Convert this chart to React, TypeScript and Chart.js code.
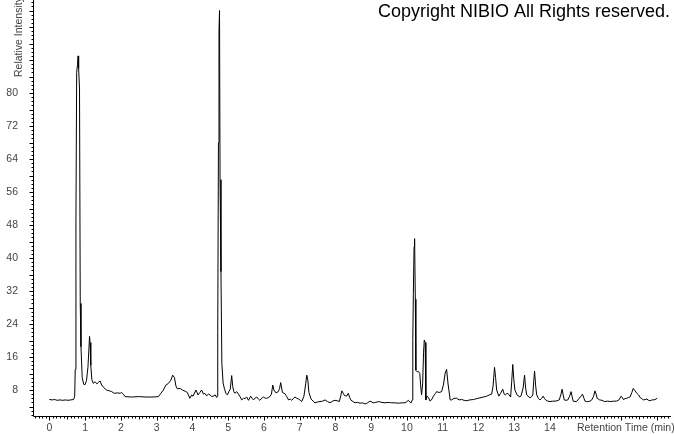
import React, { useEffect, useRef } from "react";
import { Chart, registerables } from "chart.js";

Chart.register(...registerables);

// Retention time (min)
const times: number[] = [
  0.0, 0.08, 0.15, 0.22, 0.3, 0.38, 0.45, 0.52, 0.6, 0.68,
  0.71, 0.725, 0.745, 0.765, 0.79, 0.805, 0.82, 0.845, 0.865, 0.885,
  0.92, 0.96, 1.0, 1.04, 1.08, 1.105, 1.125, 1.14, 1.16, 1.19,
  1.23, 1.28, 1.33, 1.38, 1.42, 1.465, 1.52, 1.6, 1.68, 1.745,
  1.82, 1.9, 1.98, 2.02, 2.07, 2.12, 2.3, 2.5, 2.7, 2.9,
  3.05, 3.12, 3.19, 3.26, 3.33, 3.4, 3.45, 3.5, 3.54, 3.58,
  3.66, 3.72, 3.8, 3.86, 3.93, 3.98, 4.02, 4.1, 4.16, 4.21,
  4.26, 4.31, 4.35, 4.4, 4.45, 4.5, 4.54, 4.6, 4.64, 4.68,
  4.7, 4.705, 4.715, 4.73, 4.745, 4.76, 4.775, 4.8, 4.825, 4.86,
  4.9, 4.94, 4.98, 5.02, 5.06, 5.1, 5.13, 5.16, 5.19, 5.24,
  5.29, 5.34, 5.38, 5.43, 5.47, 5.52, 5.57, 5.63, 5.67, 5.71,
  5.76, 5.8, 5.85, 5.89, 5.94, 5.99, 6.04, 6.08, 6.13, 6.17,
  6.21, 6.25, 6.28, 6.34, 6.4, 6.44, 6.47, 6.52, 6.59, 6.64,
  6.69, 6.74, 6.78, 6.83, 6.87, 6.92, 6.97, 7.02, 7.06, 7.12,
  7.17, 7.2, 7.23, 7.26, 7.32, 7.38, 7.43, 7.5, 7.57, 7.64,
  7.71, 7.78, 7.85, 7.92, 7.99, 8.05, 8.11, 8.15, 8.18, 8.22,
  8.25, 8.31, 8.36, 8.4, 8.43, 8.49, 8.55, 8.62, 8.69, 8.76,
  8.83, 8.9, 8.97, 9.06, 9.13, 9.2, 9.3, 9.39, 9.48, 9.57,
  9.66, 9.76, 9.86, 9.95, 10.0, 10.04, 10.08, 10.12, 10.15, 10.165,
  10.18, 10.2, 10.215, 10.235, 10.25, 10.29, 10.32, 10.36, 10.385, 10.41,
  10.44, 10.465, 10.485, 10.51, 10.53, 10.56, 10.6, 10.65, 10.7, 10.74,
  10.8, 10.83, 10.9, 10.97, 11.02, 11.07, 11.11, 11.15, 11.21, 11.25,
  11.32, 11.39, 11.46, 11.53, 11.6, 11.67, 11.76, 11.86, 11.95, 12.04,
  12.14, 12.23, 12.3, 12.37, 12.41, 12.45, 12.48, 12.51, 12.57, 12.62,
  12.68, 12.72, 12.75, 12.8, 12.84, 12.9, 12.93, 12.96, 12.99, 13.02,
  13.08, 13.16, 13.2, 13.25, 13.29, 13.32, 13.35, 13.44, 13.49, 13.52,
  13.545, 13.57, 13.6, 13.63, 13.68, 13.72, 13.77, 13.81, 13.85, 13.88,
  13.94, 14.0, 14.07, 14.14, 14.2, 14.26, 14.31, 14.34, 14.37, 14.4,
  14.45, 14.5, 14.55, 14.59, 14.62, 14.65, 14.7, 14.74, 14.82, 14.88,
  14.91, 14.95, 14.98, 15.02, 15.07, 15.12, 15.17, 15.22, 15.26, 15.29,
  15.32, 15.39, 15.45, 15.53, 15.61, 15.7, 15.78, 15.86, 15.93, 15.99,
  16.02, 16.05, 16.1, 16.15, 16.2, 16.24, 16.29, 16.33, 16.38, 16.43,
  16.48, 16.52, 16.57, 16.61, 16.66, 16.71, 16.76, 16.8, 16.85, 16.89,
  16.94, 17.0,
];

// Relative intensity
const intensity: number[] = [
  5.7, 5.6, 5.7, 5.5, 5.6, 5.5, 5.6, 5.5, 5.6, 5.7,
  6.5, 13, 49, 85, 87, 89, 86, 81, 29, 18.5,
  11, 9.4, 9.3, 10.3, 13.5, 17.5, 21, 19.5, 14, 10.5,
  9.6, 10.0, 9.5, 9.9, 10.2, 9.2, 8.6, 8.0, 7.8, 7.6,
  7.2, 7.3, 7.2, 7.4, 7.0, 6.4, 6.3, 6.4, 6.3, 6.3,
  6.4, 7.2, 8.0, 9.2, 9.6, 10.4, 11.6, 11.0, 9.0, 8.3,
  8.4, 8.0, 7.7, 7.4, 6.0, 6.8, 6.5, 8.0, 6.8, 7.4,
  8.0, 7.0, 7.2, 6.6, 7.0, 6.8, 6.4, 6.6, 6.8, 6.2,
  6.5, 14, 22, 68, 95, 100, 59, 36.7, 14.5, 9.7,
  8.2, 7.2, 6.8, 7.6, 8.2, 11.5, 8.8, 7.6, 7.2, 7.6,
  7.0, 6.3, 5.6, 6.0, 5.9, 6.3, 5.5, 6.5, 6.0, 5.6,
  6.1, 6.3, 5.8, 5.5, 6.0, 6.3, 6.0, 6.0, 6.2, 6.4,
  7.0, 9.2, 8.0, 7.3, 7.6, 8.4, 9.8, 7.4, 7.1, 6.4,
  5.6, 5.8, 5.5, 6.0, 6.3, 6.0, 5.8, 5.5, 5.2, 6.5,
  9.5, 11.6, 10.4, 7.4, 5.8, 5.3, 4.9, 5.1, 5.2, 5.3,
  5.6, 5.2, 4.9, 5.3, 5.5, 5.4, 5.2, 6.6, 7.8, 7.2,
  6.7, 6.5, 7.2, 6.2, 5.6, 5.2, 4.9, 5.0, 4.8, 4.9,
  4.6, 4.9, 5.3, 4.9, 5.0, 5.2, 5.0, 4.9, 5.0, 4.9,
  4.9, 4.8, 4.9, 4.9, 5.2, 5.5, 5.1, 4.9, 5.6, 20,
  31.4, 42.7, 44.7, 30, 12.8, 12.4, 12.5, 12.0, 9.0, 6.8,
  9.5, 17, 20.1, 19.5, 5.6, 6.5, 6.2, 5.3, 5.8, 6.5,
  7.2, 7.6, 7.4, 7.6, 9.2, 12.1, 13.0, 9.5, 5.6, 5.6,
  6.0, 6.0, 5.6, 5.7, 5.5, 5.4, 5.6, 5.7, 5.9, 6.1,
  6.3, 6.5, 6.8, 7.0, 9.0, 13.5, 11, 8.0, 6.5, 7.2,
  8.2, 7.0, 6.8, 7.2, 7.0, 6.3, 10, 14.2, 10.5, 8.0,
  6.8, 6.3, 6.8, 8.5, 11.6, 8.5, 6.8, 6.1, 6.4, 6.8,
  10, 12.6, 9, 6.8, 5.9, 5.6, 6.0, 6.5, 5.9, 5.6,
  5.3, 5.2, 5.3, 5.3, 5.4, 5.6, 7.0, 8.2, 6.8, 5.6,
  5.5, 5.6, 6.5, 7.6, 6.4, 5.3, 5.2, 5.2, 6.0, 6.6,
  7.0, 6.0, 5.3, 5.2, 5.2, 5.3, 5.6, 6.5, 7.8, 7.0,
  6.0, 5.6, 5.5, 5.2, 5.3, 5.2, 5.3, 5.3, 5.6, 6.5,
  6.2, 5.7, 5.9, 6.0, 6.2, 6.3, 7.4, 8.4, 7.8, 7.2,
  6.8, 6.2, 5.9, 5.6, 5.7, 5.8, 5.5, 5.4, 5.6, 5.6,
  5.7, 6.0,
];

const xTickLabels: number[] = [0, 1, 2, 3, 4, 5, 6, 7, 8, 9, 10, 11, 12, 13, 14];
const yTickLabels: number[] = [8, 16, 24, 32, 40, 48, 56, 64, 72, 80];

const X_MIN = -0.456;
const X_MAX = 17.385;
const Y_MIN = 1.7;
const Y_MAX = 102.55;

const FONT = "'Liberation Sans', Arial, sans-serif";

const decorPlugin = {
  id: "decor",
  afterDraw(chart: any) {
    const { ctx, chartArea, scales } = chart;
    const xs = scales.x;
    const ys = scales.y;
    const ax = Math.round(chartArea.left) + 0.5;
    const ay = Math.round(chartArea.bottom) + 0.5;
    ctx.save();
    ctx.strokeStyle = "#000";
    ctx.lineWidth = 1;
    ctx.beginPath();
    // axis lines
    ctx.moveTo(ax, chartArea.top);
    ctx.lineTo(ax, ay);
    ctx.lineTo(Math.round(chartArea.right), ay);
    // y ticks
    for (let v = Math.ceil(Y_MIN); v <= Y_MAX; v++) {
      const py = Math.round(ys.getPixelForValue(v)) + 0.5;
      const len = v % 4 === 0 ? 4 : 2;
      ctx.moveTo(ax - len, py);
      ctx.lineTo(ax, py);
    }
    // x ticks
    for (let i = Math.ceil(X_MIN * 10); i <= X_MAX * 10; i++) {
      const px = Math.round(xs.getPixelForValue(i / 10)) + 0.5;
      const len = i % 10 === 0 ? 4 : i % 5 === 0 ? 3 : 2;
      ctx.moveTo(px, ay);
      ctx.lineTo(px, ay + len);
    }
    ctx.stroke();

    // axis titles
    ctx.fillStyle = "#444";
    ctx.font = `10.5px ${FONT}`;
    ctx.textBaseline = "middle";
    ctx.textAlign = "left";
    ctx.fillText("Retention Time (min)", 577, xs.top + 6 + 6.6);

    ctx.save();
    ctx.translate(21.5, 77);
    ctx.rotate(-Math.PI / 2);
    ctx.textBaseline = "alphabetic";
    ctx.fillText("Relative Intensity", 0, 0);
    ctx.restore();

    // copyright
    ctx.fillStyle = "#000";
    ctx.font = `18px ${FONT}`;
    ctx.textBaseline = "alphabetic";
    ctx.textAlign = "left";
    ctx.fillText("Copyright NIBIO All Rights reserved.", 378, 16.5);
    ctx.restore();
  },
};

export default function App() {
  const ref = useRef<HTMLCanvasElement>(null);
  useEffect(() => {
    const chart = new Chart(ref.current as HTMLCanvasElement, {
      type: "line",
      data: {
        datasets: [
          {
            data: times.map((t, i) => ({ x: t, y: intensity[i] })),
            borderColor: "#000",
            borderWidth: 1,
            pointRadius: 0,
            tension: 0,
            fill: false,
          },
        ],
      },
      options: {
        responsive: false,
        animation: false,
        devicePixelRatio: 1,
        layout: { padding: { top: 0, right: 3, left: 0, bottom: 0 } },
        plugins: { legend: { display: false }, tooltip: { enabled: false } },
        scales: {
          x: {
            type: "linear",
            min: X_MIN,
            max: X_MAX,
            grid: { display: false, drawTicks: false },
            border: { display: false },
            afterBuildTicks: (s: any) => {
              s.ticks = xTickLabels.map((v) => ({ value: v }));
            },
            afterFit: (s: any) => {
              s.height = 18;
              s.paddingLeft = 0;
              s.paddingRight = 0;
            },
            ticks: {
              autoSkip: false,
              maxRotation: 0,
              padding: 6,
              color: "#444",
              font: { family: FONT, size: 10.5 },
              callback: (v: any) => String(v),
            },
          },
          y: {
            type: "linear",
            min: Y_MIN,
            max: Y_MAX,
            grid: { display: false, drawTicks: false },
            border: { display: false },
            afterBuildTicks: (s: any) => {
              s.ticks = yTickLabels.map((v) => ({ value: v }));
            },
            afterFit: (s: any) => {
              s.width = 33;
              s.paddingTop = 0;
              s.paddingBottom = 0;
            },
            ticks: {
              autoSkip: false,
              padding: 15,
              color: "#444",
              font: { family: FONT, size: 10.5 },
              callback: (v: any) => String(v),
            },
          },
        },
      },
      plugins: [decorPlugin],
    });
    return () => chart.destroy();
  }, []);
  return (
    <div style={{ position: "fixed", left: 0, top: 0, width: 674, height: 434, background: "#fff" }}>
      <canvas ref={ref} width={674} height={434} style={{ display: "block", width: 674, height: 434 }} />
    </div>
  );
}
